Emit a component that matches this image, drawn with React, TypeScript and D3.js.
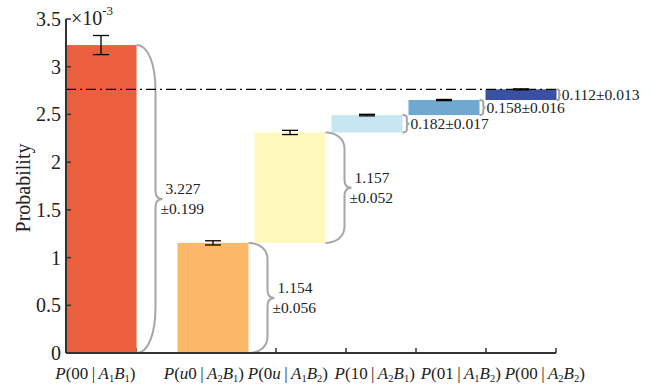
import React from 'react';
import * as d3 from 'd3';

// outcome / setting for each bar label: P(outcome | A_a B_b)
const outcomes = ['00', 'u0', '0u', '10', '01', '00'];
const settingsA = ['1', '2', '1', '2', '1', '2'];
const settingsB = ['1', '1', '2', '1', '2', '2'];
// bar heights (x 10^-3)
const values = [3.227, 1.154, 1.157, 0.182, 0.158, 0.112];
// annotated uncertainties
const uncertainties = [0.199, 0.056, 0.052, 0.017, 0.016, 0.013];
// drawn error bars
const errorBars = [0.1, 0.022, 0.022, 0.008, 0.006, 0.005];
// bar centres in x-axis units
const barPos = [0.5, 2.1, 3.2, 4.3, 5.4, 6.5];
// label centres in x-axis units
const labelPos = [0.42, 1.97, 3.17, 4.41, 5.64, 6.84];
const colors = ['#ec5f3e', '#fcb96a', '#fff9be', '#c8e6f0', '#6fa9cf', '#3a50a0'];
const yTicks = [0, 0.5, 1, 1.5, 2, 2.5, 3, 3.5];
const xTicks = [0, 1, 2, 3, 4, 5, 6, 7];

const FONT = "'Liberation Serif', 'Times New Roman', serif";

function bracePath(x0: number, y0: number, y1: number) {
  const h = y1 - y0;
  const w = Math.min(19, h * 0.25);
  const r = Math.min(46, h * 0.15);
  const t = Math.min(7, h * 0.15);
  const k = Math.min(8, h * 0.12);
  const xs = x0 + w;
  const ym = (y0 + y1) / 2;
  return `M${x0},${y0} C${x0 + w * 0.6},${y0} ${xs},${y0 + r * 0.4} ${xs},${y0 + r} ` +
    `L${xs},${ym - k} Q${xs},${ym} ${xs + t},${ym} Q${xs},${ym} ${xs},${ym + k} ` +
    `L${xs},${y1 - r} C${xs},${y1 - r * 0.4} ${x0 + w * 0.6},${y1} ${x0},${y1}`;
}

export default function App() {
  const width = 671, height = 388;
  const x = d3.scaleLinear().domain([0, 7]).range([66, 556]);
  const y = d3.scaleLinear().domain([0, 3.5]).range([353, 19]);
  const fmt = d3.format('.3f');

  // first bar stands alone, the rest stack up from zero
  const rest = values.slice(1);
  const cum = Array.from(d3.cumsum(rest));
  const bases = [0, 0, ...cum.slice(0, -1)];
  const tops = values.map((v, i) => bases[i] + v);
  const total = cum[cum.length - 1];
  const bw = x(1) - x(0) + 1;

  return (
    <svg width={width} height={height} style={{ position: 'absolute', left: 0, top: 0, fontFamily: FONT }}>
      <rect width={width} height={height} fill="#fff" />
      {/* x ticks (inside) */}
      {xTicks.map(t => (
        <line key={'xt' + t} x1={x(t)} x2={x(t)} y1={y(0)} y2={y(0) - 5} stroke="#333" strokeWidth={1.5} />
      ))}
      {/* bars */}
      {values.map((v, i) => (
        <rect key={'b' + i} x={x(barPos[i]) - bw / 2} y={y(tops[i])} width={bw}
          height={y(bases[i]) - y(tops[i])} fill={colors[i]} />
      ))}
      {/* error bars */}
      {values.map((v, i) => {
        const cx = x(barPos[i]);
        const hi = y(tops[i] + errorBars[i]);
        const lo = y(tops[i] - errorBars[i]);
        return (
          <g key={'e' + i} stroke="#000" strokeWidth={1.3}>
            <line x1={cx} x2={cx} y1={hi} y2={lo} />
            <line x1={cx - 8} x2={cx + 8} y1={hi} y2={hi} />
            <line x1={cx - 8} x2={cx + 8} y1={lo} y2={lo} />
          </g>
        );
      })}
      {/* braces and annotations */}
      {values.map((v, i) => {
        const x0 = x(barPos[i]) + bw / 2;
        const y0 = y(tops[i]);
        const y1 = y(bases[i]);
        const h = y1 - y0;
        const ym = (y0 + y1) / 2;
        const tip = x0 + Math.min(19, h * 0.25) + Math.min(7, h * 0.15);
        return (
          <g key={'br' + i}>
            <path d={bracePath(x0, y0, y1)} fill="none" stroke="#a6a6a6" strokeWidth={2} />
            {h > 40 ? (
              <text fontSize={15.5} fill="#222">
                <tspan x={tip + 3} y={ym - 5}>{fmt(v)}</tspan>
                <tspan x={tip - 2} y={ym + 15}>{'±' + fmt(uncertainties[i])}</tspan>
              </text>
            ) : (
              <text x={tip + 1} y={ym + 5} fontSize={15.5} fill="#222">
                {fmt(v) + '±' + fmt(uncertainties[i])}
              </text>
            )}
          </g>
        );
      })}
      {/* dash-dot reference line */}
      <line x1={x(0)} x2={x(7) + 1} y1={y(total)} y2={y(total)} stroke="#000" strokeWidth={1.3}
        strokeDasharray="10,4,2,4" />
      {/* axes */}
      <line x1={x(0)} x2={x(7)} y1={y(0)} y2={y(0)} stroke="#333" strokeWidth={2} />
      <line x1={x(0)} x2={x(0)} y1={y(0)} y2={y(3.5)} stroke="#333" strokeWidth={2} />
      {yTicks.map(t => (
        <g key={'yt' + t}>
          <line x1={x(0)} x2={x(0) + 5} y1={y(t)} y2={y(t)} stroke="#333" strokeWidth={1.5} />
          <text x={x(0) - 5} y={y(t) + 7} fontSize={20} textAnchor="end" fill="#222">{String(t)}</text>
        </g>
      ))}
      <text x={71} y={25} fontSize={20} fill="#222">
        ×10<tspan fontSize={13} dy={-10}>-3</tspan>
      </text>
      <text transform={`translate(30,${(y(0) + y(3.5)) / 2 + 2}) rotate(-90)`} textAnchor="middle"
        fontSize={20} fill="#222">Probability</text>
      {/* category labels */}
      {outcomes.map((o, i) => (
        <text key={'l' + i} x={x(labelPos[i])} y={379} fontSize={17} textAnchor="middle" fill="#222">
          <tspan fontStyle="italic">P</tspan>
          <tspan>(</tspan>
          {o.split('').map((c, j) => (
            <tspan key={j} fontStyle={c === 'u' ? 'italic' : 'normal'}>{c}</tspan>
          ))}
          <tspan>{'\u2009|\u2009'}</tspan>
          <tspan fontStyle="italic">A</tspan>
          <tspan fontSize={10.5} dy={3}>{settingsA[i]}</tspan>
          <tspan fontStyle="italic" dy={-3}>B</tspan>
          <tspan fontSize={10.5} dy={3}>{settingsB[i]}</tspan>
          <tspan dy={-3}>)</tspan>
        </text>
      ))}
    </svg>
  );
}
